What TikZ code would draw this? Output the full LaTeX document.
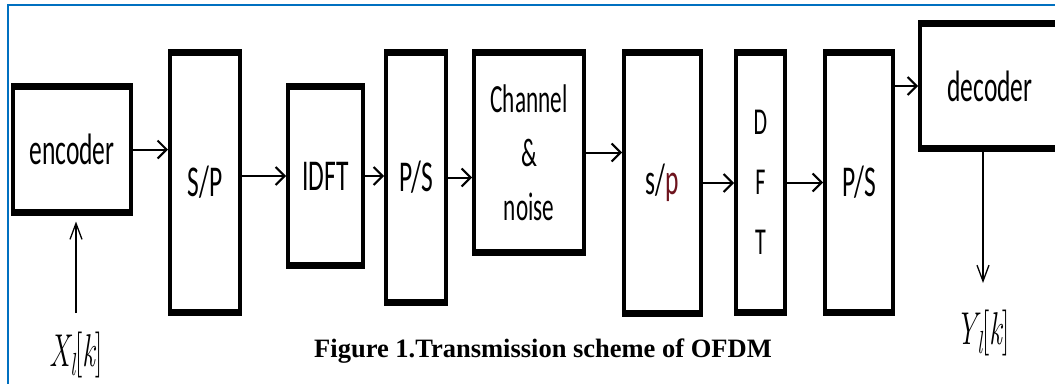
\documentclass[tikz,border=0pt]{standalone}
\usepackage{fontspec}
\usepackage{graphicx}
\usetikzlibrary{arrows.meta}
\newfontfamily\boxfont[FakeStretch=0.58]{Carlito}
\newfontfamily\capfont{Liberation Serif}
\definecolor{frameblue}{RGB}{0,112,192}
\definecolor{pred}{RGB}{110,20,30}
\tikzset{
  blk/.style={draw, line width=4pt, inner sep=0pt, outer sep=0pt, align=center,
    font=\boxfont\fontsize{44}{54}\selectfont},
  tb/.style={line width=7pt},
  harr/.style={line width=2pt, -{Straight Barb[length=9pt,width=18pt]}, shorten >=2pt},
  varr/.style={line width=1.3pt, -{Straight Barb[length=16pt,width=12pt]}},
  mathlbl/.style={anchor=base, inner sep=0pt, font=\fontsize{46}{50}\selectfont},
}
\newcommand\fatedges[1]{\draw[tb] ([xshift=-2pt]#1.north west) -- ([xshift=2pt]#1.north east)
  ([xshift=-2pt]#1.south west) -- ([xshift=2pt]#1.south east);}
\newcommand\seqlbl[1]{\scalebox{0.62}[1]{\itshape #1\raisebox{-0.2em}{\fontsize{32}{34}\selectfont\itshape l}\upshape[\itshape k\upshape]}}
\begin{document}
\begin{tikzpicture}[x=1pt,y=-1pt]
\useasboundingbox (0,0) rectangle (1055,383);
\clip (0,0) rectangle (1055,383);
\fill[white] (0,0) rectangle (1055,383);
\draw[frameblue, line width=1.8pt] (8,390) -- (8,5) -- (1060,5);

\node[blk, minimum width=118pt, minimum height=126pt] (enc) at (72,149.5) {encoder};
\node[blk, minimum width=70pt, minimum height=260pt] (sp1) at (205,182.5) {S/P};
\node[blk, minimum width=75pt, minimum height=179pt] (idft) at (325.5,176) {IDFT};
\node[blk, minimum width=60pt, minimum height=250pt] (ps1) at (416,177.5) {P/S};
\node[blk, minimum width=110pt, minimum height=200pt,
  font=\boxfont\fontsize{40}{54}\selectfont] (chan) at (529,152.5) {Channel\\\&\\noise};
\node[blk, minimum width=77pt, minimum height=261pt] (sp2) at (662.5,183) {s/{\color{pred}p}};
\node[blk, minimum width=49pt, minimum height=260pt,
  font=\boxfont\fontsize{38}{60}\selectfont] (dft) at (760.5,182.5) {D\\F\\T};
\node[blk, minimum width=68pt, minimum height=260pt] (ps2) at (859,182.5) {P/S};
\node[blk, minimum width=140pt, minimum height=125pt] (dec) at (990,86) {decoder};

\foreach \n in {enc,sp1,idft,ps1,chan,sp2,dft,ps2,dec} {\fatedges{\n}}

\draw[harr] (enc.east) -- (enc.east -| sp1.west);
\draw[harr] (idft.west -| sp1.east) -- (idft.west);
\draw[harr] (idft.east) -- (idft.east -| ps1.west);
\draw[harr] (ps1.east) -- (ps1.east -| chan.west);
\draw[harr] (chan.east) -- (chan.east -| sp2.west);
\draw[harr] (sp2.east) -- (sp2.east -| dft.west);
\draw[harr] (dft.east) -- (dft.east -| ps2.west);
\draw[harr] (dec.west -| ps2.east) -- (dec.west);

\node[mathlbl] (xl) at (76,366) {\seqlbl{X}};
\node[mathlbl] (yl) at (983,344) {\seqlbl{Y}};
\coordinate (xin) at (76,313);
\coordinate (yout) at (983,283);
\draw[varr, shorten >=9pt] (xin) -- (xin |- enc.south);
\draw[varr] (yout |- dec.south) -- (yout);

\node[anchor=base, inner sep=0pt, font=\capfont\bfseries\fontsize{26.5}{30}\selectfont] (cap)
  at (543,357) {Figure 1.Transmission scheme of OFDM};
\end{tikzpicture}
\end{document}
